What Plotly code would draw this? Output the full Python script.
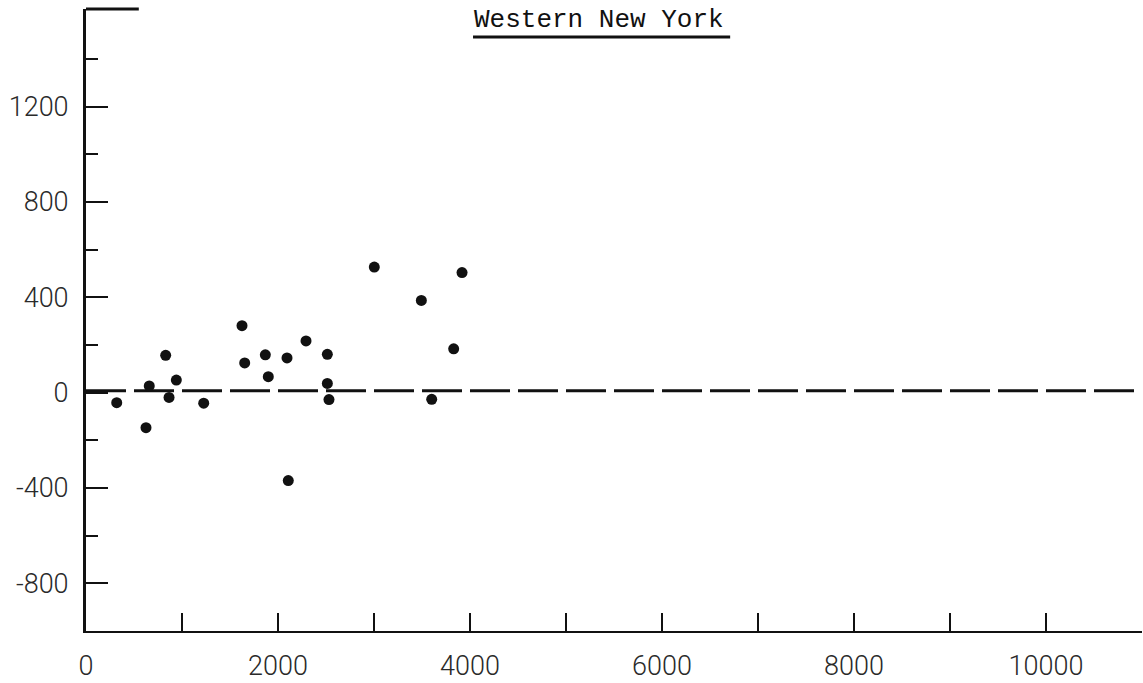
import plotly.graph_objects as go

# Data
x_vals = [320, 625, 659, 830, 865, 941, 1226, 1625, 1653, 1868, 1899, 2094, 2107,
          2292, 2514, 2514, 2531, 3003, 3493, 3917, 3830, 3601]
y_vals = [-42, -147, 28, 157, -20, 53, -44, 281, 125, 159, 67, 146, -369,
          217, 161, 39, -29, 527, 387, 504, 184, -28]

x_tick_vals = [0, 2000, 4000, 6000, 8000, 10000]
x_tick_text = ["0", "2000", "4000", "6000", "8000", "10000"]
y_tick_vals = [-800, -400, 0, 400, 800, 1200]
y_tick_text = ["-800", "-400", "0", "400", "800", "1200"]
title_text = "Western New York"

tick_font = dict(family="Roboto", size=27, color="#2a2a2a", weight=300)

fig = go.Figure()
fig.add_trace(go.Scatter(
    x=x_vals, y=y_vals, mode="markers",
    marker=dict(size=11, color="#111111", line=dict(width=0)),
    showlegend=False, hoverinfo="skip"))

# dashed zero reference line
fig.add_shape(type="line", xref="paper", yref="y", x0=0, x1=1, y0=8, y1=8,
              line=dict(color="#111111", width=3, dash="40px,8px"), layer="below")
# short top stub of the frame
fig.add_shape(type="line", xref="paper", yref="paper", x0=0, x1=0.05, y0=1, y1=1,
              line=dict(color="#111111", width=3))
# title underline
fig.add_shape(type="line", xref="paper", yref="paper", x0=0.3665, x1=0.610,
              y0=0.955, y1=0.955, line=dict(color="#111111", width=3))

fig.add_annotation(text=title_text, xref="paper", yref="paper", x=0.486, y=0.982,
                   showarrow=False, xanchor="center", yanchor="middle",
                   font=dict(family="Liberation Mono", size=26, color="#111111"))

fig.update_xaxes(
    range=[0, 11000], showgrid=False, zeroline=False,
    showline=True, linecolor="#111111", linewidth=2,
    tickmode="array", tickvals=x_tick_vals, ticktext=x_tick_text,
    ticks="inside", ticklen=18, tickwidth=2, tickcolor="#111111",
    minor=dict(dtick=1000, ticks="inside", ticklen=18, tickwidth=2, tickcolor="#111111", showgrid=False),
    tickfont=tick_font, ticklabelstandoff=10)
fig.update_yaxes(
    range=[-1000, 1610], showgrid=False, zeroline=False,
    showline=True, linecolor="#111111", linewidth=3,
    tickmode="array", tickvals=y_tick_vals, ticktext=y_tick_text,
    ticks="inside", ticklen=22, tickwidth=2, tickcolor="#111111",
    minor=dict(tickvals=[-600, -200, 200, 600, 1000, 1400], ticks="inside", ticklen=12,
               tickwidth=2, tickcolor="#111111", showgrid=False),
    tickfont=tick_font, ticklabelstandoff=9)

fig.update_layout(
    width=1143, height=683,
    margin=dict(l=86, r=1, t=9, b=46, pad=0),
    plot_bgcolor="white", paper_bgcolor="white",
)

fig.write_html("out.html", config={"displayModeBar": False},
               post_script="document.body.style.margin='0';document.body.style.overflow='hidden';")
